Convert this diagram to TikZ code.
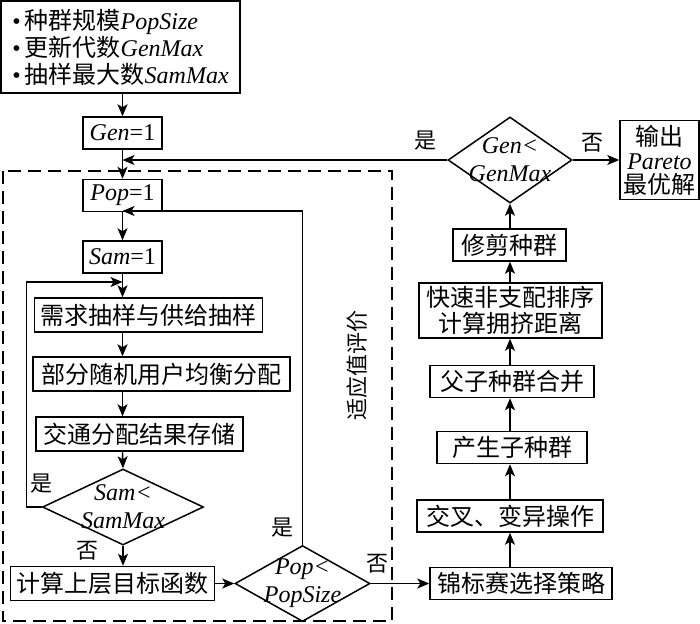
\documentclass[tikz,border=0pt]{standalone}
\usepackage{fontspec}
\setmainfont{Liberation Serif}
\newfontfamily\cjk{Noto Sans CJK SC}
\usetikzlibrary{positioning, shapes.geometric, arrows.meta}
\newcommand{\vname}[1]{{\rmfamily\itshape #1}}
\newcommand{\itembul}{{\rmfamily\textbullet}\hspace{2pt}}
\tikzset{pbox/.style={draw, line width=0.75pt, inner xsep=3pt, inner ysep=1.5pt, minimum height=16pt, align=center, font=\cjk\fontsize{12}{13}\selectfont}}
\tikzset{dbox/.style={diamond, draw, line width=0.75pt, inner sep=0pt, label={[align=center, font=\rmfamily\itshape\fontsize{12}{14}\selectfont]center:#1}}}
\tikzset{arr/.style={draw, line width=0.7pt, -{Stealth[length=6pt, width=5pt, inset=1.5pt]}}}
\tikzset{yn/.style={font=\cjk\fontsize{11}{11}\selectfont, inner sep=2pt}}
\tikzset{evalframe/.style={draw, line width=0.75pt, dash pattern=on 6.5pt off 3.5pt}}
\begin{document}
\begin{tikzpicture}[x=0.5pt, y=-0.5pt]
\useasboundingbox[fill=white] (0,0) rectangle (700,623);
% evaluation loop
\node[pbox, align=left, minimum width=119.5pt, minimum height=46pt, font=\cjk\fontsize{12}{13.5}\selectfont] (init) at (120.5,47) {\itembul 种群规模\vname{PopSize}\\\itembul 更新代数\vname{GenMax}\\\itembul 抽样最大数\vname{SamMax}};
\node[pbox, minimum width=39.5pt] (gen) at (122.5,133) {\vname{Gen}{\rmfamily =1}};
\node[pbox, minimum width=39.5pt, below=14.5pt of gen] (pop) {\vname{Pop}{\rmfamily =1}};
\node[pbox, minimum width=39.5pt, below=14pt of pop] (sam) {\vname{Sam}{\rmfamily =1}};
\node[pbox, minimum width=113.5pt, minimum height=17pt] (demand) at (148.5,315) {需求抽样与供给抽样};
\node[pbox, minimum width=128.5pt, minimum height=17pt] (ue) at (161.5,374) {部分随机用户均衡分配};
\node[pbox, minimum width=103.5pt, minimum height=17pt] (store) at (139.5,434) {交通分配结果存储};
\node[dbox={Sam<\\SamMax}, minimum width=80.5pt, minimum height=38pt] (samdia) at (123,507) {};
\node[pbox, minimum width=100.5pt, minimum height=17pt] (calc) at (112.5,583.5) {计算上层目标函数};
\node[dbox={Pop<\\PopSize}, minimum width=67.5pt, minimum height=38pt] (popdia) at (302.5,583.5) {};
\draw[evalframe] (3,171) rectangle (392,621);
\node[font=\cjk\fontsize{11}{11}\selectfont, rotate=90] (evaltext) at (357,365) {适应值评价};
% NSGA-II column
\node[pbox, minimum width=91pt] (tour) at (521,583.5) {锦标赛选择策略};
\node[pbox, minimum width=93pt] (cross) at (510,516) {交叉、变异操作};
\node[pbox, minimum width=75pt] (child) at (512,447.5) {产生子种群};
\node[pbox, minimum width=82pt] (merge) at (512,381.5) {父子种群合并};
\node[pbox, minimum width=91.5pt, minimum height=27.5pt] (sort) at (510.5,310.5) {快速非支配排序\\计算拥挤距离};
\node[pbox, minimum width=56.5pt] (prune) at (509.5,245) {修剪种群};
\node[dbox={Gen<\\GenMax}, minimum width=62pt, minimum height=43pt] (genmax) at (510,160) {};
\node[pbox, minimum width=39.5pt, minimum height=39.5pt, inner xsep=1pt, font=\cjk\fontsize{12}{12}\selectfont] (output) at (659.5,160) {输出\\\vname{Pareto}\\最优解};
%
\coordinate (poploop) at (122.5,211);
\coordinate (samloop) at (122.5,282);
\draw[arr] (init.south -| gen) -- (gen.north);
\draw[arr] (gen) -- (pop);
\draw[arr] (pop) -- (sam);
\draw[arr] (sam.south) -- (sam.south |- demand.north);
\draw[arr] (demand.south -| gen) -- (ue.north -| gen);
\draw[arr] (ue.south -| gen) -- (store.north -| gen);
\draw[arr] (store.south -| gen) -- (samdia.north);
\draw[arr] (samdia.west) -- node[yn, pos=0, above=4.5pt]{是} ++(-15,0) |- (samloop);
\draw[arr] (samdia.south) -- node[yn, pos=0.27, left=10pt]{否} (samdia.south |- calc.north);
\draw[arr] (calc) -- (popdia);
\draw[arr] (popdia.north) |- node[yn, pos=0.0255, left=2pt]{是} (poploop);
\draw[arr] (popdia) -- node[yn, pos=0.12, above=3pt]{否} (tour);
\draw[arr] (tour.north -| genmax) -- (cross.south -| genmax);
\draw[arr] (cross.north -| genmax) -- (child.south -| genmax);
\draw[arr] (child.north -| genmax) -- (merge.south -| genmax);
\draw[arr] (merge.north -| genmax) -- (sort.south -| genmax);
\draw[arr] (sort.north -| genmax) -- (prune.south -| genmax);
\draw[arr] (prune.north -| genmax) -- (genmax.south);
\draw[arr] (genmax) -- node[yn, pos=0.42, above=1.5pt]{否} (output);
\draw[arr] (genmax.west) -- node[yn, pos=0.068, above=2.5pt]{是} (genmax.west -| gen);
\end{tikzpicture}
\end{document}
